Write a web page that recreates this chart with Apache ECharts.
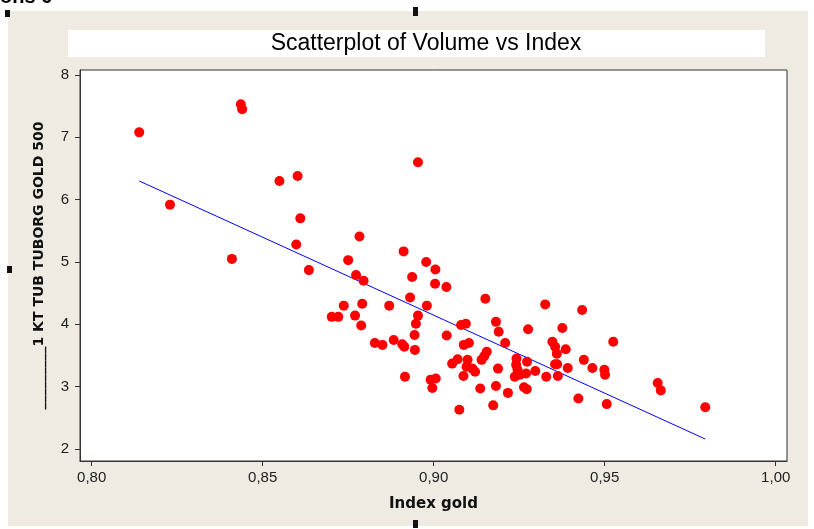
<!DOCTYPE html>
<html>
<head>
<meta charset="utf-8">
<script src="https://cdn.jsdelivr.net/npm/echarts@6/dist/echarts.min.js"></script>
<style>html,body{margin:0;padding:0;background:#fff}#c{width:814px;height:529px}</style>
</head>
<body>
<div id="c"></div>
<script>
// Data
const indexGold = [
  0.8139, 0.8229, 0.8410, 0.8436, 0.8440, 0.8549, 0.8602, 0.8610, 0.8598, 0.8635,
  0.8750, 0.8954, 0.8783, 0.8912, 0.8978, 0.9005, 0.8937, 0.9004, 0.9037, 0.8773,
  0.8795, 0.8931, 0.8980, 0.8737, 0.8791, 0.8870, 0.8954, 0.8948, 0.8944, 0.8702,
  0.8721, 0.8770, 0.8788, 0.9038, 0.9151, 0.9182, 0.9190, 0.9080, 0.9094, 0.8828,
  0.8850, 0.8883, 0.8908, 0.8914, 0.8945, 0.9088, 0.9103, 0.9155, 0.9148, 0.9140,
  0.9054, 0.9070, 0.9099, 0.9096, 0.9113, 0.9121, 0.9087, 0.9188, 0.8916, 0.8991,
  0.9006, 0.8996, 0.9136, 0.9182, 0.9174, 0.9075, 0.9326, 0.9434, 0.9276, 0.9376,
  0.9209, 0.9347, 0.9355, 0.9360, 0.9386, 0.9525, 0.9242, 0.9273, 0.9241, 0.9245,
  0.9237, 0.9252, 0.9270, 0.9297, 0.9355, 0.9361, 0.9329, 0.9363, 0.9392, 0.9439,
  0.9464, 0.9499, 0.9501, 0.9217, 0.9264, 0.9272, 0.9423, 0.9506, 0.9655, 0.9664,
  0.9794
];
const volume = [
  7.08, 5.92, 5.05, 7.53, 7.45, 6.30, 6.38, 5.70, 5.28, 4.87,
  5.03, 6.60, 5.41, 5.17, 5.00, 4.88, 4.76, 4.65, 4.60, 4.79,
  4.70, 4.43, 4.30, 4.30, 4.33, 4.30, 4.14, 4.01, 3.83, 4.12,
  4.12, 4.14, 3.98, 3.82, 4.41, 4.04, 3.88, 3.99, 4.01, 3.70,
  3.67, 3.75, 3.68, 3.64, 3.59, 3.67, 3.70, 3.56, 3.49, 3.43,
  3.37, 3.44, 3.43, 3.32, 3.29, 3.24, 3.17, 3.29, 3.16, 3.11,
  3.13, 2.98, 2.97, 3.01, 2.70, 2.63, 4.32, 4.23, 3.92, 3.94,
  3.70, 3.72, 3.64, 3.53, 3.60, 3.72, 3.45, 3.40, 3.35, 3.27,
  3.16, 3.19, 3.21, 3.25, 3.36, 3.36, 3.16, 3.17, 3.30, 3.43,
  3.30, 3.27, 3.19, 2.90, 2.99, 2.96, 2.81, 2.72, 3.06, 2.94,
  2.67
];
// Fitted line end points (as drawn in the reference)
const fitX = [0.8139, 0.9794];
const fitY = [6.30, 2.16];
// Tick values
const xTicks = [0.80, 0.85, 0.90, 0.95, 1.00];
const yTicks = [2, 3, 4, 5, 6, 7, 8];

const titleText = 'Scatterplot of Volume vs Index';
const xName = 'Index gold';
const yName = '_________1 KT TUB TUBORG GOLD 500';

const points = indexGold.map((x, i) => [x, volume[i]]);
const fitLine = fitX.map((x, i) => [x, fitY[i]]);

const chart = echarts.init(document.getElementById('c'), null, {renderer: 'canvas'});
chart.setOption({
  animation: false,
  backgroundColor: '#EFEBE2',
  graphic: [
    {type: 'rect', shape: {x: 0, y: 0, width: 814, height: 11}, style: {fill: '#fff'}, silent: true},
    {type: 'rect', shape: {x: 0, y: 0, width: 8, height: 529}, style: {fill: '#fff'}, silent: true},
    {type: 'rect', shape: {x: 808, y: 0, width: 6, height: 529}, style: {fill: '#fff'}, silent: true},
    {type: 'rect', shape: {x: 0, y: 526, width: 814, height: 3}, style: {fill: '#fff'}, silent: true},
    {type: 'rect', shape: {x: 5, y: 10, width: 5, height: 7}, style: {fill: '#111'}, silent: true},
    {type: 'rect', shape: {x: 413, y: 7, width: 5, height: 9}, style: {fill: '#111'}, silent: true},
    {type: 'rect', shape: {x: 7, y: 266, width: 5, height: 7}, style: {fill: '#111'}, silent: true},
    {type: 'rect', shape: {x: 413, y: 520, width: 5, height: 8}, style: {fill: '#111'}, silent: true},
    {type: 'text', x: 0, y: -13, style: {text: 'ons 6', fill: '#000', font: 'bold 20px "Liberation Sans"'}, silent: true},
    {type: 'rect', shape: {x: 68, y: 30, width: 697, height: 27}, style: {fill: '#fff'}, silent: true},
    {type: 'text', x: 426, y: 44, style: {text: titleText, fill: '#000', font: '23px "Liberation Sans"', textAlign: 'center', textVerticalAlign: 'middle'}, silent: true}
  ],
  grid: {
    left: 80, top: 70, width: 707, height: 391,
    show: true, backgroundColor: '#ffffff', borderColor: '#333', borderWidth: 1
  },
  xAxis: {
    type: 'value',
    min: 0.79658, max: 1.0033,
    name: xName, nameLocation: 'middle', nameGap: 36,
    nameTextStyle: {fontFamily: 'DejaVu Sans', fontWeight: 'bold', fontSize: 15, color: '#111'},
    axisLine: {show: true, lineStyle: {color: '#333', width: 1}},
    axisTick: {show: true, length: 5, customValues: xTicks, lineStyle: {color: '#333'}},
    axisLabel: {
      customValues: xTicks, margin: 9,
      fontFamily: 'Liberation Sans', fontSize: 15, color: '#222',
      formatter: v => v.toFixed(2).replace('.', ',')
    },
    splitLine: {show: false}
  },
  yAxis: {
    type: 'value',
    min: 1.8075, max: 8.0802,
    name: yName, nameLocation: 'middle', nameGap: 34,
    nameTextStyle: {fontFamily: 'DejaVu Sans', fontWeight: 'bold', fontSize: 14, color: '#111'},
    axisLine: {show: true, lineStyle: {color: '#333', width: 1}},
    axisTick: {show: true, length: 5, customValues: yTicks, lineStyle: {color: '#333'}},
    axisLabel: {
      customValues: yTicks, margin: 11,
      fontFamily: 'Liberation Sans', fontSize: 15, color: '#222',
      formatter: v => String(Math.round(v))
    },
    splitLine: {show: false}
  },
  series: [
    {
      type: 'line', data: fitLine, showSymbol: false, symbol: 'none',
      lineStyle: {color: '#0000FF', width: 1}, z: 1, silent: true
    },
    {
      type: 'scatter', data: points, symbol: 'circle', symbolSize: 10,
      itemStyle: {color: '#FF0000', opacity: 1}, z: 2
    }
  ]
});
</script>
</body>
</html>
